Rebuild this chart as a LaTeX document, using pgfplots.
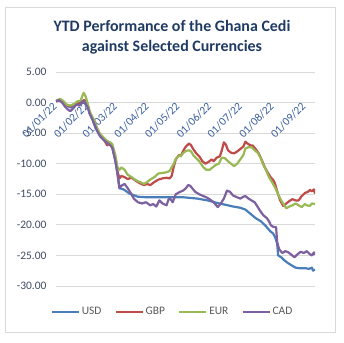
\documentclass[border=0pt]{standalone}
\usepackage{fontspec}
\setmainfont{Carlito}
\usepackage{pgfplots}
\usepackage{pgfplotstable}
\pgfplotsset{compat=1.18}
\definecolor{cUSD}{HTML}{4A7EBB}
\definecolor{cGBP}{HTML}{BE4B48}
\definecolor{cEUR}{HTML}{98B954}
\definecolor{cCAD}{HTML}{7D60A0}
\definecolor{gridc}{HTML}{D9D9D9}
\definecolor{titlec}{HTML}{1F3A63}
\definecolor{ylab}{HTML}{3F4B63}
\definecolor{xlab}{HTML}{3A5F9E}
\definecolor{legc}{HTML}{595959}

\pgfplotstableread{
d v
0 0.3
4 0.5
7 0.1
10 -0.4
14 -0.8
18 -0.5
21 -0.1
24 -0.3
27 0.3
29 0.2
31 -0.6
33 -1.8
37 -3.1
40 -4.4
43 -5.4
47 -6.0
50 -6.5
53 -6.8
55 -7.3
58 -9.5
60 -11.5
62 -14.0
66 -14.2
72 -14.9
80 -15.4
90 -15.5
110 -15.5
125 -15.5
138 -15.7
148 -16.0
157 -16.4
165 -16.7
173 -17.0
180 -17.2
185 -17.5
190 -18.2
195 -18.9
200 -19.4
205 -20.2
209 -21.0
212 -21.4
214 -22.0
216 -23.0
217 -25.0
220 -25.3
223 -25.8
227 -26.3
230 -26.6
234 -27.0
238 -27.1
244 -27.1
247 -27.2
250 -27.0
251 -27.5
253 -27.3
}\usd

\pgfplotstableread{
d v
0 0.2
4 0.4
7 0.0
10 -0.4
14 -0.6
18 -0.3
21 0.0
24 -0.2
27 0.4
29 0.3
31 -0.4
33 -1.7
37 -3.0
40 -4.3
43 -5.3
47 -6.1
50 -7.0
52 -6.6
55 -7.2
58 -9.2
60 -11.2
62 -12.4
64 -12.0
67 -12.2
70 -12.5
74 -12.3
78 -12.8
82 -13.2
86 -13.5
89 -13.3
92 -13.5
96 -13.0
100 -12.6
104 -12.4
108 -12.3
111 -12.4
113 -12.0
115 -10.5
117 -9.3
120 -8.6
122 -8.7
124 -8.0
126 -7.4
128 -7.0
130 -6.7
132 -7.0
134 -7.6
137 -8.3
140 -8.8
143 -9.6
146 -10.0
149 -9.7
152 -9.3
154 -9.6
157 -9.0
160 -8.8
162 -7.8
164 -6.5
166 -6.9
168 -7.8
171 -8.2
174 -8.3
177 -8.0
180 -7.6
183 -7.2
185 -6.4
187 -6.7
190 -7.0
192 -7.0
195 -7.6
198 -8.3
201 -9.4
204 -10.6
207 -11.5
210 -12.3
212 -12.6
214 -13.3
216 -14.5
219 -16.0
222 -16.9
225 -16.5
228 -16.1
231 -15.8
234 -16.0
237 -16.0
240 -15.3
243 -14.8
246 -14.6
248 -14.3
250 -14.5
252 -14.2
253 -14.9
}\gbp

\pgfplotstableread{
d v
0 0.3
4 0.6
7 0.3
10 -0.3
14 -0.5
18 -0.2
21 0.2
24 0.3
26 1.2
27 1.6
29 1.0
31 -0.2
33 -1.5
37 -2.8
40 -4.1
43 -5.1
47 -5.8
50 -6.3
53 -6.5
55 -6.8
58 -8.6
60 -10.5
62 -11.0
64 -10.6
67 -11.0
70 -11.8
74 -12.2
78 -12.7
82 -13.0
86 -13.3
89 -13.0
92 -12.6
96 -12.2
100 -11.6
104 -11.5
108 -11.4
111 -11.2
113 -10.6
115 -10.0
117 -9.2
120 -8.7
122 -8.8
124 -8.3
127 -7.9
130 -7.8
132 -8.0
134 -8.6
137 -9.1
140 -9.6
144 -10.6
147 -11.0
150 -11.0
153 -10.6
156 -10.2
159 -10.0
162 -9.0
165 -9.1
168 -9.6
171 -10.0
174 -10.4
177 -10.0
180 -9.3
183 -8.6
185 -7.5
188 -7.3
191 -7.3
194 -7.8
197 -8.2
200 -9.1
202 -10.0
205 -11.0
208 -12.2
211 -13.0
214 -13.9
217 -15.0
220 -16.0
223 -16.8
225 -17.3
228 -17.0
231 -16.8
234 -16.5
237 -16.8
240 -17.1
243 -16.6
245 -16.8
248 -16.9
250 -16.5
253 -16.6
}\eur

\pgfplotstableread{
d v
0 0.2
3 0.4
6 0.0
9 -0.7
12 -1.2
14 -1.4
17 -0.9
20 -0.3
23 -0.5
25 0.1
27 0.3
29 -0.2
31 -0.8
33 -1.9
37 -3.3
40 -4.6
43 -5.5
47 -6.2
50 -6.6
53 -7.0
55 -7.4
58 -9.6
60 -11.6
62 -14.0
64 -13.6
67 -13.3
70 -14.0
73 -14.8
76 -15.7
80 -16.3
84 -16.5
88 -16.3
92 -16.8
95 -16.6
98 -17.0
101 -16.0
104 -16.5
108 -16.8
110 -15.8
112 -15.8
114 -16.3
117 -15.0
120 -14.7
124 -14.4
127 -14.0
129 -13.5
131 -13.6
133 -14.0
136 -14.6
140 -15.0
144 -15.3
147 -15.5
150 -15.8
154 -16.3
158 -17.1
161 -16.5
164 -15.7
167 -14.4
170 -14.6
173 -15.2
177 -15.5
180 -15.7
183 -15.4
185 -15.3
188 -15.7
191 -16.0
194 -16.3
196 -16.8
199 -17.6
201 -18.1
203 -18.5
206 -18.9
208 -19.4
210 -20.1
212 -20.3
215 -20.4
216 -22.8
218 -24.0
221 -24.6
224 -24.3
227 -24.5
230 -24.9
233 -25.3
236 -24.8
239 -24.4
242 -24.6
245 -24.3
248 -24.8
250 -25.0
252 -24.5
253 -24.9
}\cad

\begin{document}
\begin{tikzpicture}
\useasboundingbox (-56bp,-57bp) rectangle (288bp,286bp);
\draw[gridc, line width=0.8bp] (-51bp,-46bp) rectangle (279bp,279bp);
\begin{axis}[
  at={(0,0)}, anchor=south west,
  scale only axis,
  width=259bp, height=214bp,
  xmin=0, xmax=253,
  ymin=-30, ymax=5,
  axis line style={draw=none},
  xtick={0,31,59,90,120,151,181,212,243},
  xticklabels={01/01/22,01/02/22,01/03/22,01/04/22,01/05/22,01/06/22,01/07/22,01/08/22,01/09/22},
  xtick style={draw=none},
  xticklabel shift=-182.5bp,
  xticklabel style={rotate=45, anchor=east, font=\fontsize{11.5}{12}\selectfont, text=xlab, inner sep=1.5bp},
  ytick={5,0,-5,-10,-15,-20,-25,-30},
  ytick style={draw=none},
  yticklabel style={font=\fontsize{11.5}{12}\selectfont, text=ylab, xshift=-6bp},
  yticklabel={\pgfmathprintnumber[fixed,fixed zerofill,precision=2]{\tick}},
  /pgf/number format/assume math mode=true,
  ymajorgrids,
  grid style={gridc, line width=0.8bp},
  legend columns=4,
  legend style={at={(0.45,-0.1215)}, anchor=center, draw=none, fill=none,
    font=\fontsize{11.5}{12}\selectfont, text=legc,
    /tikz/every even column/.append style={column sep=11bp}},
  legend cell align=left,
  legend image code/.code={\draw[#1, line width=2.2bp] (0bp,0bp) -- (27bp,0bp);},
  every axis plot/.append style={line width=2.2bp, line join=round},
]
\addplot[cUSD, no marks] table[x=d, y=v] {\usd};
\addplot[cGBP, no marks] table[x=d, y=v] {\gbp};
\addplot[cEUR, no marks] table[x=d, y=v] {\eur};
\addplot[cCAD, no marks] table[x=d, y=v] {\cad};
\legend{USD,GBP,EUR,CAD}
\end{axis}
\node[align=center, font=\bfseries\fontsize{16}{20}\selectfont, text=titlec] at (116bp,249bp) {YTD Performance of the Ghana Cedi\\against Selected Currencies};
\end{tikzpicture}
\end{document}
